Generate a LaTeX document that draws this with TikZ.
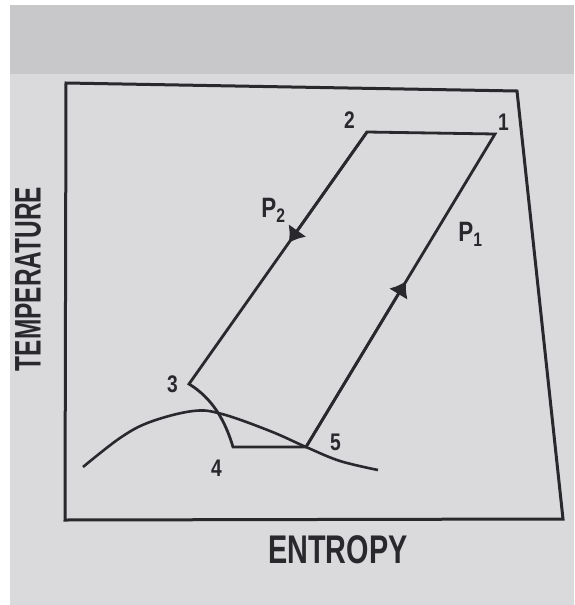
\documentclass[tikz,border=0pt]{standalone}
\usepackage{fontspec}
\usepackage{xcolor}
\usepackage{tikz}
\usetikzlibrary{positioning}
\usetikzlibrary{arrows.meta}
\usetikzlibrary{calc}
\newfontfamily\numfont[FakeStretch=0.8]{Liberation Sans}
\newfontfamily\axisfont[FakeStretch=0.66]{Liberation Sans}
\newfontfamily\xaxisfont[FakeStretch=0.72]{Liberation Sans}
\definecolor{inkcolor}{RGB}{40,40,45}
\definecolor{pagecolor}{RGB}{218,218,221}
\definecolor{edgecolor}{RGB}{200,200,202}

\begin{document}
\begin{tikzpicture}[
    x=1pt, y=-1pt,
    frameline/.style={draw=inkcolor, line width=3pt, line join=miter},
    cycleline/.style={draw=inkcolor, line width=2.8pt, line join=miter},
    flow/.style={-{Latex[length=15pt,width=22pt]}, draw=inkcolor, line width=2.8pt},
    numlabel/.style={inner sep=0pt, text=inkcolor, font=\numfont\bfseries\fontsize{24}{24}\selectfont},
    plabel/.style={inner sep=0pt, text=inkcolor, font=\numfont\bfseries\fontsize{28}{28}\selectfont},
    axislabel/.style={inner sep=0pt, text=inkcolor, font=\axisfont\bfseries\fontsize{37}{37}\selectfont}
]

% Page
\fill[white] (0,0) rectangle (574,605);
\fill[pagecolor] (10,5) rectangle (574,605);
\fill[edgecolor] (10,5) rectangle (574,74);
\useasboundingbox (0,0) rectangle (574,605);

% Frame corners
\coordinate (ftl) at (66,83);
\coordinate (ftr) at (517,91);
\coordinate (fbr) at (563,519);
\coordinate (fbl) at (65,520);
\draw[frameline] (ftl) -- (ftr) -- (fbr) -- (fbl) -- cycle;

% State points
\coordinate (p1) at (495,134);
\coordinate (p2) at (367,132);
\coordinate (p3) at (189,384);
\coordinate (p4) at (233,447);
\coordinate (p5) at (306,447);
\coordinate (m23) at ($(p2)!0.44!(p3)$);
\coordinate (m51) at ($(p5)!0.53!(p1)$);

% Saturation dome
\draw[cycleline, line width=2.6pt] plot[smooth, tension=0.6] coordinates {
    (83,467) (120,438) (150,422) (193,411) (222,414) (270,431) (306,447) (340,461) (378,470)};

% Cycle
\draw[cycleline] (p2) -- (p1) -- (p5) -- (p4)
    .. controls ($(p4)+(-8,-27)$) and ($(p3)+(23,14)$) .. (p3) -- cycle;

% Flow marks
\draw[flow] (p2) -- (m23);
\draw[flow] (p5) -- (m51);

% Point labels
\node[numlabel, above right=3pt and 3pt of p1] (l1) {1};
\node[numlabel, above left=3pt and 12pt of p2] (l2) {2};
\node[numlabel, left=11pt of p3] (l3) {3};
\node[numlabel, below left=13pt and 11pt of p4] (l4) {4};
\node[numlabel, right=24pt of p5, yshift=5pt] (l5) {5};

% Pressure labels
\node[plabel, above left=20pt and 3pt of m23] (lp2) {P\textsubscript{2}};
\node[plabel, above right=34pt and 52pt of m51] (lp1) {P\textsubscript{1}};

% Axis labels
\node[axislabel, font=\xaxisfont\bfseries\fontsize{40}{40}\selectfont] (xlab) at (338,550) {ENTROPY};
\node[axislabel, rotate=90] (ylab) at (28,279) {TEMPERATURE};

\end{tikzpicture}
\end{document}
